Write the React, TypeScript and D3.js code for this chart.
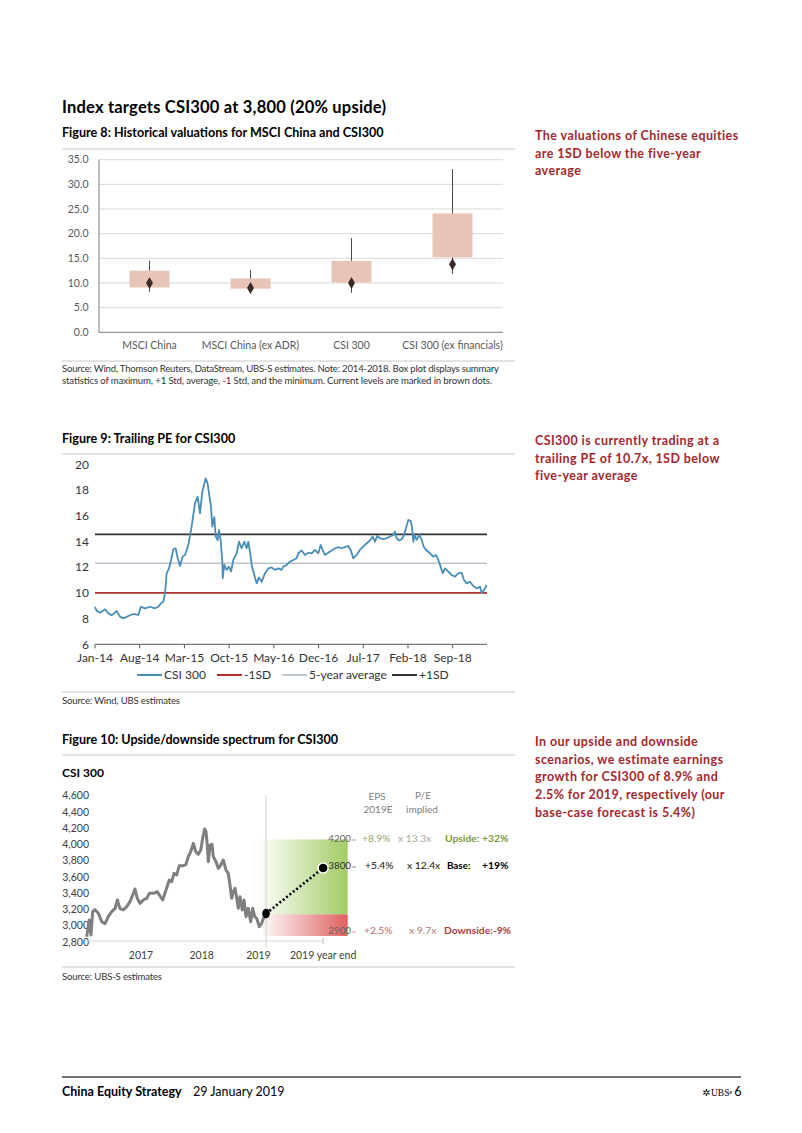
import React from 'react';
import * as d3 from 'd3';

const W = 802;
const H = 1133;
const FONT = 'Lato, "Open Sans", sans-serif';
const RED_TEXT = '#a3282d';

// ---------- Figure 8 data ----------
const boxCategories = ['MSCI China', 'MSCI China (ex ADR)', 'CSI 300', 'CSI 300 (ex financials)'];
const boxMax = [14.5, 12.6, 19.1, 33.1];
const boxPlus1Std = [12.5, 10.9, 14.5, 24.1];
const boxMinus1Std = [9.1, 8.85, 10.1, 15.2];
const boxMin = [8.2, 8.1, 8.0, 11.8];
const boxCurrent = [10.0, 9.0, 10.0, 13.8];
const fig8YTicks = [0, 5, 10, 15, 20, 25, 30, 35];

// ---------- Figure 9 data (months since Jan-14, trailing PE) ----------
const peMonths = [
  0.0, 0.26, 0.78, 1.57, 2.09, 2.61, 3.39, 3.91, 4.44, 5.22, 6.0, 6.78, 7.2, 7.83, 8.61, 9.39, 9.91,
  10.33, 10.7, 10.96, 11.22, 11.58, 11.9, 12.26, 12.63, 12.94, 13.31, 13.72, 14.09, 14.61, 15.13,
  15.65, 16.07, 16.44, 16.8, 17.32, 17.64, 17.85, 18.16, 18.37, 18.68, 18.89, 19.2, 19.41, 19.67,
  19.93, 19.99, 20.25, 20.61, 20.98, 21.29, 21.66, 22.18, 22.54, 22.96, 23.38, 23.74, 24.0, 24.26,
  24.53, 24.94, 25.31, 25.67, 26.09, 26.61, 27.13, 27.65, 28.18, 28.7, 29.22, 29.48, 30.0, 30.53,
  31.05, 31.57, 31.83, 32.35, 32.87, 33.4, 33.92, 34.44, 34.96, 35.33, 35.64, 36.01, 36.53, 37.05,
  37.57, 38.09, 38.61, 39.14, 39.66, 40.02, 40.44, 40.96, 41.48, 42.0, 42.53, 43.05, 43.47, 43.83,
  44.2, 44.61, 45.14, 45.66, 46.18, 46.7, 46.96, 47.22, 47.64, 48.01, 48.37, 48.69, 49.05, 49.42,
  49.62, 49.83, 50.04, 50.36, 50.77, 51.14, 51.5, 51.92, 52.44, 52.96, 53.38, 53.75, 54.11, 54.43,
  54.79, 55.31, 55.83, 56.36, 56.88, 57.4, 57.76, 58.18, 58.7, 59.23, 59.75, 60.27, 60.53, 60.89, 61.31,
];
const peValues = [
  8.92, 8.6, 8.46, 8.72, 8.41, 8.25, 8.59, 8.15, 8.02, 8.2, 8.36, 8.28, 8.92, 8.8, 8.92, 8.8, 8.92,
  9.19, 9.32, 9.97, 11.52, 11.9, 12.56, 13.39, 13.47, 12.7, 12.09, 12.82, 12.95, 13.72, 15.15,
  16.96, 17.48, 16.19, 17.87, 18.9, 18.5, 17.74, 16.7, 15.15, 15.9, 14.4, 14.1, 14.9, 14.1,
  12.43, 11.13, 12.17, 11.79, 12.04, 11.66, 12.56, 13.08, 13.98, 13.47, 13.98, 13.47, 13.98, 13.2,
  12.17, 11.39, 10.74, 11.2, 10.87, 11.52, 11.9, 11.98, 11.79, 11.9, 11.79, 12.04, 12.17, 12.43,
  12.56, 12.69, 13.08, 13.29, 12.95, 13.13, 13.08, 13.34, 13.08, 13.72, 13.34, 12.95, 13.13, 13.29,
  13.47, 13.55, 13.47, 13.55, 13.65, 13.34, 12.69, 12.95, 13.34, 13.6, 13.86, 14.07, 14.38, 13.98,
  14.43, 14.25, 14.17, 14.25, 14.38, 14.5, 14.77, 14.25, 14.07, 14.17, 14.5, 15.02, 15.67, 15.6,
  15.15, 13.98, 14.5, 14.12, 14.5, 14.12, 13.55, 13.29, 13.08, 12.82, 12.95, 12.56, 12.04, 11.52,
  11.9, 11.65, 11.39, 11.26, 11.52, 11.57, 11.0, 10.74, 10.87, 10.53, 10.35, 10.48, 10.0, 10.22, 10.61,
];
const peTickLabels = ['Jan-14', 'Aug-14', 'Mar-15', 'Oct-15', 'May-16', 'Dec-16', 'Jul-17', 'Feb-18', 'Sep-18'];
const peTickMonths = [0, 7, 14, 21, 28, 35, 42, 49, 56];
const peYTicks = [6, 8, 10, 12, 14, 16, 18, 20];
const peMinus1SD = 10.0;
const peAverage = 12.3;
const pePlus1SD = 14.55;

// ---------- Figure 10 data (decimal year, CSI 300 index) ----------
const csiYears = [
  2016.105, 2016.148, 2016.176, 2016.204, 2016.242, 2016.297, 2016.353, 2016.407, 2016.461, 2016.517,
  2016.572, 2016.61, 2016.654, 2016.708, 2016.764, 2016.819, 2016.863, 2016.901, 2016.939, 2016.984,
  2017.038, 2017.094, 2017.137, 2017.203, 2017.269, 2017.313, 2017.357, 2017.412, 2017.466, 2017.506,
  2017.544, 2017.588, 2017.631, 2017.697, 2017.741, 2017.779, 2017.819, 2017.862, 2017.901, 2017.944,
  2017.984, 2018.016, 2018.049, 2018.071, 2018.092, 2018.109, 2018.137, 2018.17, 2018.191, 2018.236,
  2018.273, 2018.313, 2018.356, 2018.4, 2018.438, 2018.466, 2018.494, 2018.521, 2018.549, 2018.577,
  2018.603, 2018.631, 2018.669, 2018.697, 2018.73, 2018.768, 2018.807, 2018.84, 2018.873, 2018.906,
  2018.949, 2018.988, 2019.026,
];
const csiValues = [
  2865, 3071, 2886, 3173, 3198, 3153, 3050, 3025, 3112, 3173,
  3210, 3317, 3210, 3194, 3235, 3296, 3378, 3452, 3337, 3276,
  3317, 3337, 3399, 3399, 3419, 3366, 3317, 3440, 3563, 3542,
  3645, 3625, 3739, 3739, 3756, 3850, 3911, 4014, 3911, 3879,
  3932, 4076, 4190, 4157, 3993, 3788, 3993, 4002, 3850, 3788,
  3706, 3747, 3809, 3686, 3645, 3501, 3337, 3419, 3460, 3337,
  3214, 3358, 3194, 3317, 3112, 3214, 3050, 3214, 3112, 3091,
  2988, 3030, 3112,
];
const csiYTicks = [2800, 3000, 3200, 3400, 3600, 3800, 4000, 4200, 4400, 4600];
const csiXTickLabels = ['2017', '2018', '2019', '2019 year end'];
const csiXTickYears = [2017, 2018, 2019, 2020];
const csiCurrentYear = 2019.06;
const csiCurrentValue = 3150;
const csiTargetYear = 2020.0;
const csiTargetValue = 3710;
const upsideTop = 4062;
const scenarioSplit = 3140;
const downsideBottom = 2874;
const scenarioStartYear = 2018.78;
const downsideStartYear = 2019.0;
const scenarioEndYear = 2020.405;

const fmtComma = d3.format(',');

export default function App() {
  // ---- Figure 8 scales ----
  const x8 = d3.scaleBand<string>().domain(boxCategories).range([99, 503]);
  const y8 = d3.scaleLinear().domain([0, 35]).range([332.3, 159.7]);
  const boxW = 40;
  const diamond = d3.symbol().type(d3.symbolDiamond).size(42)() as string;

  // ---- Figure 9 scales ----
  const x9 = d3.scaleLinear().domain([0, 61.37]).range([95, 487]);
  const y9 = d3.scaleLinear().domain([6, 20]).range([644.3, 464.3]);
  const peLine = d3
    .line<number>()
    .x((_, i) => x9(peMonths[i]))
    .y((d) => y9(d));

  // ---- Figure 10 scales ----
  const x10 = d3.scaleLinear().domain([2017, 2018]).range([141, 201.7]);
  const y10 = d3.scaleLinear().domain([2800, 4600]).range([942, 795.7]);
  const csiLine = d3
    .line<number>()
    .x((_, i) => x10(csiYears[i]))
    .y((d) => y10(d))
    .curve(d3.curveLinear);

  const legend9 = [
    { label: 'CSI 300', color: '#4a8db7', x: 137 },
    { label: '-1SD', color: '#b22f2c', x: 217 },
    { label: '5-year average', color: '#bcc6d0', x: 282 },
    { label: '+1SD', color: '#333333', x: 392 },
  ];

  const rightText1 = ['The valuations of Chinese equities', 'are 1SD below the five-year', 'average'];
  const rightText2 = ['CSI300 is currently trading at a', 'trailing PE of 10.7x, 1SD below', 'five-year average'];
  const rightText3 = [
    'In our upside and downside',
    'scenarios, we estimate earnings',
    'growth for CSI300 of 8.9% and',
    '2.5% for 2019, respectively (our',
    'base-case forecast is 5.4%)',
  ];

  const rule = (y: number, x1 = 62, x2 = 515, color = '#c8c8c8', w = 1) => (
    <line x1={x1} x2={x2} y1={y} y2={y} stroke={color} strokeWidth={w} />
  );

  const rightBlock = (lines: string[], y0: number) => (
    <g>
      {lines.map((t, i) => (
        <text
          key={i}
          x={535}
          y={y0 + i * 17.7}
          fontSize={12.5}
          fontWeight={700}
          fill={RED_TEXT}
          letterSpacing={0.42}
        >
          {t}
        </text>
      ))}
    </g>
  );

  const srcSize = 9.6;

  return (
    <svg
      width={W}
      height={H}
      viewBox={`0 0 ${W} ${H}`}
      style={{ position: 'absolute', left: 0, top: 0, background: '#fff' }}
      fontFamily={FONT}
    >
      <rect x={0} y={0} width={W} height={H} fill="#fff" />

      {/* Headline */}
      <text x={62} y={113} fontSize={16.5} fontWeight={700} fill="#000" letterSpacing={0.2}>
        Index targets CSI300 at 3,800 (20% upside)
      </text>

      {/* ================= Figure 8 ================= */}
      <text x={62} y={137} fontSize={12.6} fontWeight={700} fill="#000">
        Figure 8: Historical valuations for MSCI China and CSI300
      </text>
      {rule(149)}
      {fig8YTicks.map((t) => (
        <g key={t}>
          {t > 0 && <line x1={99} x2={503} y1={y8(t)} y2={y8(t)} stroke="#d9d9d9" strokeWidth={1} />}
          <text x={88.5} y={y8(t)} dy="0.35em" textAnchor="end" fontSize={10.5} fill="#595959">
            {t.toFixed(1)}
          </text>
        </g>
      ))}
      <line x1={99} x2={99} y1={y8(35)} y2={y8(0)} stroke="#7f7f7f" strokeWidth={1} />
      <line x1={99} x2={503} y1={y8(0)} y2={y8(0)} stroke="#7f7f7f" strokeWidth={1} />
      {boxCategories.map((c, i) => {
        const cx = (x8(c) as number) + x8.bandwidth() / 2;
        return (
          <g key={c}>
            <line x1={cx} x2={cx} y1={y8(boxMax[i])} y2={y8(boxMin[i])} stroke="#4d4d4d" strokeWidth={1} />
            <rect
              x={cx - boxW / 2}
              y={y8(boxPlus1Std[i])}
              width={boxW}
              height={y8(boxMinus1Std[i]) - y8(boxPlus1Std[i])}
              fill="#e8c3b7"
            />
            <path d={diamond} transform={`translate(${cx},${y8(boxCurrent[i])})`} fill="#3b2a27" />
            <text x={cx} y={349} textAnchor="middle" fontSize={10.5} fill="#595959">
              {c}
            </text>
          </g>
        );
      })}
      {rule(361)}
      <text x={62} y={372} fontSize={srcSize} fill="#333" textLength={437} lengthAdjust="spacing">
        Source:  Wind, Thomson Reuters, DataStream, UBS-S estimates. Note: 2014-2018. Box plot displays summary
      </text>
      <text x={62} y={383.5} fontSize={srcSize} fill="#333" textLength={430} lengthAdjust="spacing">
        statistics of maximum, +1 Std, average, -1 Std, and the minimum. Current levels are marked in brown dots.
      </text>
      {rightBlock(rightText1, 140)}

      {/* ================= Figure 9 ================= */}
      <text x={62} y={443} fontSize={12.6} fontWeight={700} fill="#000">
        Figure 9: Trailing PE for CSI300
      </text>
      {rule(454)}
      {peYTicks.map((t) => (
        <text key={t} x={89} y={y9(t)} dy="0.35em" textAnchor="end" fontSize={12} fill="#333">
          {t}
        </text>
      ))}
      <line x1={95} x2={487} y1={y9(6)} y2={y9(6)} stroke="#555" strokeWidth={1} />
      {peTickMonths.map((m, i) => (
        <g key={m}>
          <line x1={x9(m)} x2={x9(m)} y1={y9(6)} y2={y9(6) + 4} stroke="#555" strokeWidth={1} />
          <text x={x9(m)} y={662} textAnchor="middle" fontSize={12} fill="#333">
            {peTickLabels[i]}
          </text>
        </g>
      ))}
      <line x1={95} x2={487} y1={y9(peAverage)} y2={y9(peAverage)} stroke="#bcc6d0" strokeWidth={1.6} />
      <line x1={95} x2={487} y1={y9(pePlus1SD)} y2={y9(pePlus1SD)} stroke="#333" strokeWidth={1.6} />
      <line x1={95} x2={487} y1={y9(peMinus1SD)} y2={y9(peMinus1SD)} stroke="#b22f2c" strokeWidth={1.6} />
      <path d={peLine(peValues) as string} fill="none" stroke="#4a8db7" strokeWidth={1.8} strokeLinejoin="round" />
      {legend9.map((l) => (
        <g key={l.label}>
          <line x1={l.x} x2={l.x + 25} y1={675} y2={675} stroke={l.color} strokeWidth={2} />
          <text x={l.x + 27} y={679} fontSize={12} fill="#333">
            {l.label}
          </text>
        </g>
      ))}
      {rule(692)}
      <text x={62} y={704} fontSize={srcSize} fill="#333" textLength={118} lengthAdjust="spacing">
        Source:  Wind, UBS estimates
      </text>
      {rightBlock(rightText2, 445)}

      {/* ================= Figure 10 ================= */}
      <text x={62} y={744} fontSize={12.6} fontWeight={700} fill="#000">
        Figure 10: Upside/downside spectrum for CSI300
      </text>
      {rule(755)}
      <text x={62} y={777} fontSize={12} fontWeight={700} fill="#000">
        CSI 300
      </text>
      <defs>
        <linearGradient id="gUp" x1="0" x2="1" y1="0" y2="0">
          <stop offset="0" stopColor="#a5cd6a" stopOpacity={0} />
          <stop offset="0.15" stopColor="#a5cd6a" stopOpacity={0.08} />
          <stop offset="1" stopColor="#a2cb63" stopOpacity={1} />
        </linearGradient>
        <linearGradient id="gDown" x1="0" x2="1" y1="0" y2="0">
          <stop offset="0" stopColor="#e06666" stopOpacity={0.04} />
          <stop offset="1" stopColor="#df5f5f" stopOpacity={1} />
        </linearGradient>
      </defs>
      <rect
        x={x10(scenarioStartYear)}
        y={y10(upsideTop)}
        width={x10(scenarioEndYear) - x10(scenarioStartYear)}
        height={y10(scenarioSplit) - y10(upsideTop)}
        fill="url(#gUp)"
      />
      <rect
        x={x10(downsideStartYear)}
        y={y10(scenarioSplit)}
        width={x10(scenarioEndYear) - x10(downsideStartYear)}
        height={y10(downsideBottom) - y10(scenarioSplit)}
        fill="url(#gDown)"
      />
      {csiYTicks.map((t) => (
        <text key={t} x={89} y={y10(t)} dy="0.35em" textAnchor="end" fontSize={10.5} fill="#404040">
          {fmtComma(t)}
        </text>
      ))}
      <line x1={88} x2={x10(csiTargetYear)} y1={941} y2={941} stroke="#d6d6d6" strokeWidth={1} />
      <line x1={x10(csiTargetYear)} x2={x10(csiTargetYear)} y1={938} y2={944} stroke="#bdbdbd" strokeWidth={1} />
      <line
        x1={x10(csiCurrentYear)}
        x2={x10(csiCurrentYear)}
        y1={795}
        y2={948}
        stroke="#cfcfcf"
        strokeWidth={1}
      />
      <path d={csiLine(csiValues) as string} fill="none" stroke="#7f7f7f" strokeWidth={3} strokeLinejoin="round" />
      <line
        x1={x10(csiCurrentYear)}
        y1={y10(csiCurrentValue)}
        x2={x10(csiTargetYear)}
        y2={y10(csiTargetValue)}
        stroke="#000"
        strokeWidth={2.6}
        strokeDasharray="2 2.3"
      />
      <ellipse cx={x10(csiCurrentYear)} cy={y10(csiCurrentValue)} rx={3.8} ry={4.8} fill="#000" />
      <circle cx={x10(csiTargetYear)} cy={y10(csiTargetValue)} r={5} fill="#000" stroke="#fff" strokeWidth={1.5} />
      {csiXTickYears.map((yr, i) => (
        <text
          key={yr}
          x={i === 2 ? x10(yr) - 4 : x10(yr)}
          y={959}
          textAnchor="middle"
          fontSize={10.5}
          fill="#404040"
        >
          {csiXTickLabels[i]}
        </text>
      ))}
      {/* scenario table */}
      <g fontSize={10} fill="#808080" textAnchor="middle">
        <text x={377} y={800}>EPS</text>
        <text x={378} y={813}>2019E</text>
        <text x={423} y={799}>P/E</text>
        <text x={422} y={813}>implied</text>
      </g>
      <g fontSize={10.3}>
        <text x={351} y={842} fill="#666" textAnchor="end" fontSize={9.8}>4200</text>
        <text x={351.5} y={842} fill="#aaa" fontSize={8}>=</text>
        <text x={362} y={842} fill="#93a870">+8.9%</text>
        <text x={398} y={842} fill="#a4ab94">x  13.3x</text>
        <text x={445} y={842} fill="#7c9a3b" fontWeight={700}>Upside:</text>
        <text x={482} y={842} fill="#7c9a3b" fontWeight={700}>+32%</text>

        <text x={351} y={869} fill="#333" textAnchor="end" fontSize={9.8}>3800</text>
        <text x={351.5} y={869} fill="#888" fontSize={8}>=</text>
        <text x={365} y={869} fill="#111">+5.4%</text>
        <text x={407} y={869} fill="#111">x  12.4x</text>
        <text x={447} y={869} fill="#000" fontWeight={700} fontSize={9.8}>Base:</text>
        <text x={482} y={869} fill="#000" fontWeight={700}>+19%</text>

        <text x={351} y={934} fill="#666" textAnchor="end" fontSize={9.8}>2900</text>
        <text x={351.5} y={934} fill="#c99" fontSize={8}>=</text>
        <text x={364} y={934} fill="#c06a6a">+2.5%</text>
        <text x={409} y={934} fill="#b07a7a">x  9.7x</text>
        <text x={444} y={934} fill="#b03c3c" fontWeight={700}>Downside:-9%</text>
      </g>
      {rule(967)}
      <text x={62} y={980} fontSize={srcSize} fill="#333" textLength={100} lengthAdjust="spacing">
        Source:  UBS-S estimates
      </text>
      {rightBlock(rightText3, 746)}

      {/* ================= Footer ================= */}
      {rule(1077, 62, 741, '#444', 1.3)}
      <text x={62} y={1096} fontSize={12.5} fontWeight={700} fill="#000">
        China Equity Strategy
      </text>
      <text x={193} y={1096} fontSize={12.5} fill="#000">
        29 January 2019
      </text>
      <text x={702} y={1096} fontSize={10} fill="#000" fontFamily="DejaVu Sans">
        ✲
      </text>
      <text x={711} y={1096} fontSize={9.5} fill="#000" fontFamily='"Liberation Serif", serif'>
        UBS
      </text>
      <rect x={726} y={1091} width={2.5} height={3} fill="#888" />
      <rect x={729.5} y={1091} width={2.5} height={3} fill="#888" />
      <text x={741.5} y={1096} fontSize={12.5} textAnchor="end" fill="#000">
        6
      </text>
    </svg>
  );
}
